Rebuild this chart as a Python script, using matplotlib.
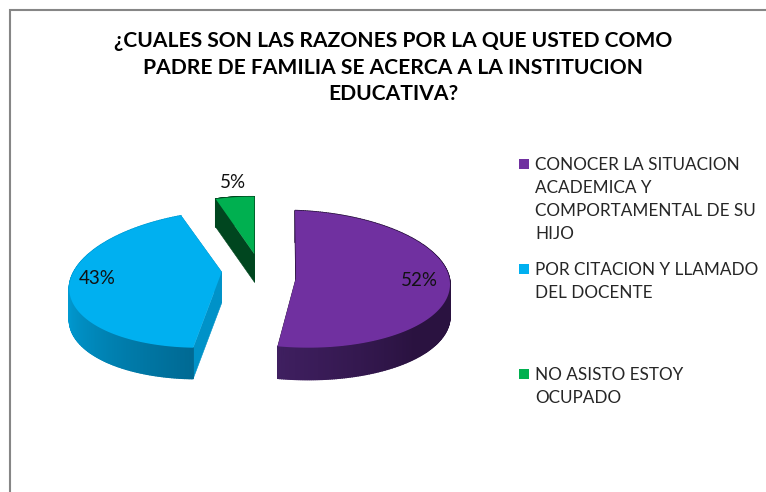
import numpy as np
import matplotlib
matplotlib.use('Agg')
import matplotlib.pyplot as plt
from matplotlib.colors import to_rgb
from matplotlib.patches import Polygon
from matplotlib.transforms import Affine2D

titulo = '¿CUALES SON LAS RAZONES POR LA QUE USTED COMO\nPADRE DE FAMILIA SE ACERCA A LA INSTITUCION\nEDUCATIVA?'
categorias = ['CONOCER LA SITUACION\nACADEMICA Y\nCOMPORTAMENTAL DE SU\nHIJO',
              'POR CITACION Y LLAMADO\nDEL DOCENTE',
              'NO ASISTO ESTOY\nOCUPADO']
valores = [52, 43, 5]
colores = ['#7030a0', '#00b0f0', '#00b050']

# a, b, c, d, x, y de la elipse de cada porcion en pixeles (la perspectiva cambia en cada una)
formas = [(154, -1, 5, -68.5, 296, 279),
          (150.5, 8, -6, -68.5, 220, 279),
          (125, 0, 1.6, -57.3, 254.3, 254)]
apices = [(296, 278), (221.7, 272), (254.3, 254)]
alturas = [32, 31, 28]
color_corte = ['#2a123f', '#0092c8', '#00461f']
# color del borde: (angulo, color) en los dos extremos del degradado
degradados = [((-97, '#3f1f60'), (-40, '#2a1240')),
              ((-180, '#009fd8'), (-98, '#006a94')),
              ((-108, '#00461f'), (-108, '#00461f'))]
pos_etiquetas = [(419, 281), (97, 279), (233, 182)]


def dibujar_porcion(ax, cuña, forma, apice, alto, corte, degradado):
    a, b, c, d, x0, y0 = forma
    m = Affine2D(np.array([[a, b, x0], [c, d, y0], [0, 0, 1.0]]))
    t = np.radians(np.linspace(cuña.theta1, cuña.theta2, 240))
    borde = m.transform(np.column_stack([np.cos(t), np.sin(t)]))
    baja = np.array([0, alto])
    apice = np.array(apice)

    # caras del corte
    for p in (borde[0], borde[-1]):
        ax.add_patch(Polygon([apice, p, p + baja, apice + baja], fc=corte, ec=corte, lw=0.4, zorder=2))

    # lateral con degradado
    (t1, c1), (t2, c2) = degradado
    c1, c2 = np.array(to_rgb(c1)), np.array(to_rgb(c2))
    for i in range(len(borde) - 1):
        f = np.clip((np.degrees(t[i]) - t1) / max(t2 - t1, 1), 0, 1)
        col = c1 + (c2 - c1) * f
        ax.add_patch(Polygon([borde[i], borde[i + 1], borde[i + 1] + baja, borde[i] + baja],
                             fc=col, ec=col, lw=1.0, zorder=3))

    # la cara de arriba usa los angulos del pie, con el apice corrido
    cuña.set_visible(False)
    ax.add_patch(Polygon(np.vstack([apice, borde]), fc=cuña.get_facecolor(), ec='none', zorder=4))


fig = plt.figure(figsize=(7.66, 4.92), dpi=100)
ax = fig.add_axes([0, 0, 1, 1])
cuñas, _ = ax.pie(valores, colors=colores, startangle=90, counterclock=False, radius=1)
ax.set_aspect('auto')
ax.set_xlim(0, 766)
ax.set_ylim(492, 0)
ax.axis('off')

for i in range(len(valores)):
    dibujar_porcion(ax, cuñas[i], formas[i], apices[i], alturas[i], color_corte[i], degradados[i])
    x, y = pos_etiquetas[i]
    ax.text(x, y, f'{valores[i]}%', fontsize=13.5, family='Lato', color='#111111',
            ha='center', va='center', zorder=6)

# marco gris del grafico (solo arriba e izquierda)
ax.plot([10, 10, 766], [492, 10, 10], color='#868686', lw=1.5, zorder=1, solid_joinstyle='miter')

ax.text(393, 67.5, titulo, fontsize=15.1, family='Lato', weight='bold', color='#000000',
        ha='center', va='center', linespacing=1.42, zorder=6)

y_leyenda = [164, 269, 374]
for i in range(len(categorias)):
    ax.scatter([524], [y_leyenda[i]], marker='s', s=52, color=colores[i], linewidths=0, zorder=6)
    ax.text(535, y_leyenda[i] - 7, categorias[i], fontsize=12.3, family='Lato', color='#262626',
            ha='left', va='top', linespacing=1.53, zorder=6)

fig.savefig('out.png', dpi=100)
